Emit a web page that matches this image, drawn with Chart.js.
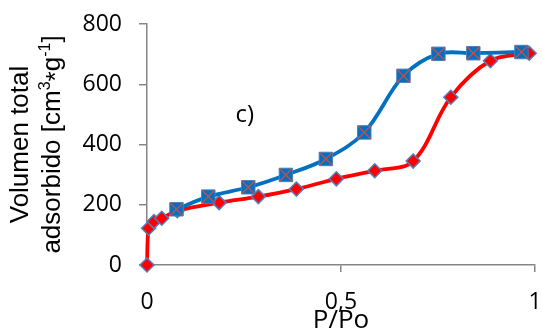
<!DOCTYPE html>
<html>
<head>
<meta charset="utf-8">
<script src="https://cdn.jsdelivr.net/npm/chart.js@4"></script>
<style>
  html, body { margin: 0; padding: 0; background: #fff; }
  #wrap { width: 542px; height: 334px; }
</style>
</head>
<body>
<div id="wrap"><canvas id="chart" width="542" height="334"></canvas></div>
<script>
// adsorption branch (red, diamonds)
const adsP = [0, 0.004, 0.018, 0.038, 0.078, 0.186, 0.287, 0.385, 0.488, 0.587, 0.686, 0.783, 0.885, 0.985];
const adsV = [0, 122, 144, 155, 180, 207, 227, 252, 286, 313, 345, 557, 678, 703];

// desorption branch (blue, squares with X)
const desP = [0.076, 0.158, 0.261, 0.358, 0.461, 0.560, 0.661, 0.751, 0.841, 0.965];
const desV = [185, 227, 258, 299, 352, 440, 628, 701, 703, 707];

const yTicks = [0, 200, 400, 600, 800];
const xTicks = [0, 0.5, 1];

const TICKFONT = "'Open Sans', Lato, sans-serif";
const TITLEFONT = "'Liberation Sans', Arial, sans-serif";
const toXY = (xs, ys) => xs.map((x, i) => ({ x: x, y: ys[i] }));

// "c)" label + rotated y title with real superscripts
const extraText = {
  id: 'extraText',
  afterDraw(chart) {
    const { ctx, scales, chartArea } = chart;
    ctx.save();
    ctx.fillStyle = '#000';

    ctx.font = "24px " + TICKFONT;
    ctx.textAlign = 'center';
    ctx.textBaseline = 'middle';
    ctx.fillText('c)', scales.x.getPixelForValue(0.252), scales.y.getPixelForValue(496));

    // y axis title, two lines, rotated
    const big = "26px " + TITLEFONT;
    const small = "16px " + TITLEFONT;
    const lines = [
      { base: 28, parts: [['Volumen total', big, 0]] },
      { base: 60, parts: [['adsorbido [cm', big, 0], ['3', small, -10], ['*', big, 4],
                          ['g', big, 0], ['-1', small, -10], [']', big, 0]] }
    ];
    const cy = (chartArea.top + chartArea.bottom) / 2;
    ctx.textAlign = 'left';
    ctx.textBaseline = 'alphabetic';
    lines.forEach(line => {
      let total = 0;
      line.parts.forEach(p => { ctx.font = p[1]; total += ctx.measureText(p[0]).width; });
      ctx.save();
      ctx.translate(line.base, cy);
      ctx.rotate(-Math.PI / 2);
      let u = -total / 2;
      line.parts.forEach(p => {
        ctx.font = p[1];
        ctx.fillText(p[0], u, p[2]);
        u += ctx.measureText(p[0]).width;
      });
      ctx.restore();
    });
    ctx.restore();
  }
};

const ctx = document.getElementById('chart').getContext('2d');
new Chart(ctx, {
  type: 'scatter',
  data: {
    datasets: [
      {
        label: 'cross',
        data: toXY(desP, desV),
        showLine: false,
        clip: false,
        pointStyle: 'crossRot',
        pointRadius: 9,
        pointBorderColor: '#C0504D',
        pointBorderWidth: 1.4,
        pointBackgroundColor: 'transparent'
      },
      {
        label: 'Desorción',
        data: toXY(desP, desV),
        showLine: true,
        clip: false,
        borderColor: '#0070C0',
        borderWidth: 3.8,
        tension: 0.35,
        pointStyle: 'rect',
        pointRadius: 9.5,
        pointBackgroundColor: '#0070C0',
        pointBorderColor: '#4A7EBB',
        pointBorderWidth: 1
      },
      {
        label: 'Adsorción',
        data: toXY(adsP, adsV),
        showLine: true,
        clip: false,
        borderColor: '#FF0000',
        borderWidth: 3.8,
        tension: 0.35,
        pointStyle: 'rectRot',
        pointRadius: 7,
        pointBackgroundColor: '#FF0000',
        pointBorderColor: '#4F81BD',
        pointBorderWidth: 1.5
      }
    ]
  },
  options: {
    responsive: false,
    animation: false,
    layout: { autoPadding: false, padding: { top: 24, right: 7, left: 0, bottom: 0 } },
    plugins: {
      legend: { display: false },
      tooltip: { enabled: false }
    },
    scales: {
      x: {
        type: 'linear',
        min: 0,
        max: 1,
        afterBuildTicks: (s) => { s.ticks = xTicks.map(v => ({ value: v })); },
        ticks: {
          color: '#000',
          font: { family: TICKFONT, size: 23 },
          padding: 17,
          maxRotation: 0,
          callback: (v) => String(v).replace('.', ',')
        },
        grid: { drawOnChartArea: false, drawTicks: true, tickLength: 7, color: '#868686', lineWidth: 1.5 },
        border: { color: '#868686', width: 1.5 },
        title: {
          display: true,
          text: 'P/Po',
          color: '#000',
          font: { family: TICKFONT, size: 26, lineHeight: 1.0 },
          padding: { top: 0, bottom: 0 }
        },
        afterFit: (s) => { s.height = 69; s.paddingLeft = 0; s.paddingRight = 0; }
      },
      y: {
        min: 0,
        max: 800,
        afterBuildTicks: (s) => { s.ticks = yTicks.map(v => ({ value: v })); },
        ticks: {
          color: '#000',
          font: { family: TICKFONT, size: 23 },
          padding: 17
        },
        grid: { drawOnChartArea: false, drawTicks: true, tickLength: 8, color: '#868686', lineWidth: 1.5 },
        border: { color: '#868686', width: 1.5 },
        title: { display: false },
        afterFit: (s) => { s.width = 147; s.paddingTop = 0; s.paddingBottom = 0; }
      }
    }
  },
  plugins: [extraText]
});
</script>
</body>
</html>
